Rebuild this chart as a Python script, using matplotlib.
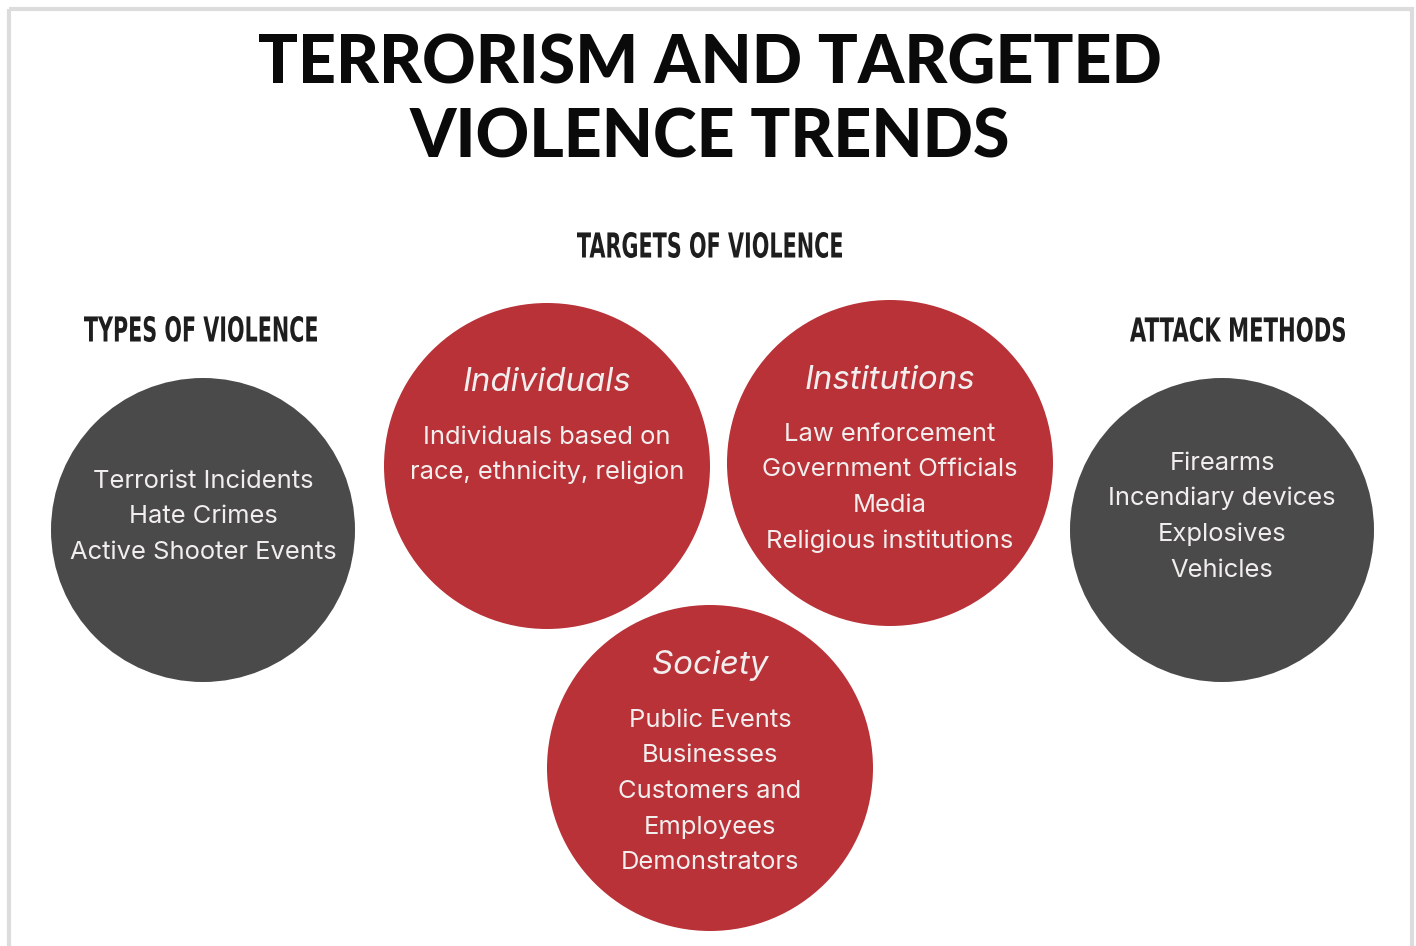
import matplotlib.pyplot as plt
from matplotlib.patches import Circle, Rectangle, PathPatch
from matplotlib.textpath import TextPath
from matplotlib.font_manager import FontProperties
from matplotlib.transforms import Affine2D

title_lines = ["TERRORISM AND TARGETED", "VIOLENCE TRENDS"]
section_labels = ["TYPES OF VIOLENCE", "TARGETS OF VIOLENCE", "ATTACK METHODS"]

circle_names = ["", "Individuals", "Institutions", "Society", ""]
circle_items = [
    ["Terrorist Incidents", "Hate Crimes", "Active Shooter Events"],
    ["Individuals based on", "race, ethnicity, religion"],
    ["Law enforcement", "Government Officials", "Media", "Religious institutions"],
    ["Public Events", "Businesses", "Customers and", "Employees", "Demonstrators"],
    ["Firearms", "Incendiary devices", "Explosives", "Vehicles"],
]

# layout in pixels (origin top-left)
centers = [(203, 530), (547, 466), (890, 463), (710, 768), (1222, 530)]
radii = [152, 163, 163, 163, 152]
colors = ["#4a4a4a", "#b83238", "#b83238", "#b83238", "#4a4a4a"]
first_line_y = [481, 437, 434, 720, 463]
heading_y = [None, 382, 380, 665, None]
line_gap = 35.7
# label boxes: (x0, x1, top, bottom)
label_boxes = [(84, 317, 316, 342), (577, 842, 232, 258), (1130, 1345, 317, 342)]

W, H = 1416, 946
fig = plt.figure(figsize=(W / 100, H / 100), dpi=100)
ax = fig.add_axes([0, 0, 1, 1])
ax.set_xlim(0, W)
ax.set_ylim(H, 0)
ax.axis("off")

ax.add_patch(Rectangle((9, 9), 1403, 960, fill=False, edgecolor="#dcdcdc", linewidth=3))

for i, line in enumerate(title_lines):
    ax.text(710, 65 + i * 73, line, ha="center", va="center", fontsize=47.7,
            family="Lato", fontweight="black", color="#0a0a0a")


def condensed_label(text, box):
    # squeeze a bold text path into the box to imitate a condensed display face
    x0, x1, top, bottom = box
    tp = TextPath((0, 0), text, size=100,
                  prop=FontProperties(family="DejaVu Sans", weight="bold"))
    bb = tp.get_extents()
    tr = (Affine2D().translate(-bb.x0, -bb.y0)
          .scale((x1 - x0) / bb.width, -(bottom - top) / bb.height)
          .translate(x0, bottom))
    ax.add_patch(PathPatch(tr.transform_path(tp), facecolor="#1e1e1e",
                           edgecolor="none"))


for text, box in zip(section_labels, label_boxes):
    condensed_label(text, box)

for i in range(len(centers)):
    cx, cy = centers[i]
    ax.add_patch(Circle((cx, cy), radii[i], facecolor=colors[i], edgecolor="none"))
    if circle_names[i]:
        ax.text(cx, heading_y[i], circle_names[i], ha="center", va="center",
                fontsize=23.8, style="italic", family="Inter", color="#f2eeee")
    for j, item in enumerate(circle_items[i]):
        ax.text(cx, first_line_y[i] + j * line_gap, item, ha="center", va="center",
                fontsize=18.4, family="Inter", color="#f2eeee")

plt.savefig("out.png", dpi=100)
